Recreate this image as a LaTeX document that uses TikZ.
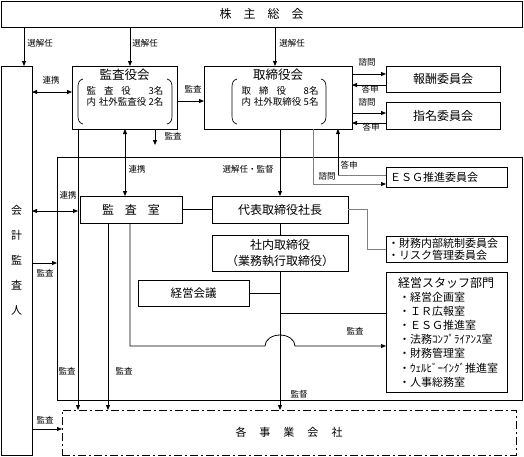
\documentclass[tikz,border=0pt]{standalone}
\usepackage{fontspec}
\setmainfont{Noto Sans CJK JP}
\usetikzlibrary{arrows.meta}
\newcommand\myfs[1]{\fontsize{#1}{#1}\selectfont}
\begin{document}
\begin{tikzpicture}[x=1pt,y=-1pt,
 box/.style={draw, line width=0.8pt, inner sep=0pt, outer sep=0pt, anchor=north west},
 arr/.style={line width=0.8pt, -{Triangle[length=5pt,width=4pt]}},
 darr/.style={line width=0.8pt, {Triangle[length=5pt,width=4pt]}-{Triangle[length=5pt,width=4pt]}},
 garr/.style={line width=0.7pt, draw=black!50, -{Triangle[length=5pt,width=4pt,color=black,fill=black]}},
 ln/.style={line width=0.8pt},
 gln/.style={line width=0.7pt, draw=black!50},
 brk/.style={line width=0.7pt},
 lbl/.style={font=\myfs{8.5}, inner sep=0pt},
]
\useasboundingbox (0,0) rectangle (524,456);

% coordinates
\foreach \x in {24,78,108,125,130,155,275,313,338,367}{\coordinate (X\x) at (\x,0);}
\foreach \y in {74,85,92,101,113,123,145,175,184,211,263,313,429}{\coordinate (Y\y) at (0,\y);}
\coordinate (jA) at (265,346);
\coordinate (kbe) at (155,145);

% boxes
\node[box, minimum width=521pt, minimum height=26pt, font=\myfs{12}] (gm) at (1,1) {株\hspace{12pt}主\hspace{12pt}総\hspace{12pt}会};
\node[box, minimum width=31pt, minimum height=389pt, align=center, font=\fontsize{11}{25}\selectfont] (ka) at (1,66) {会\\計\\監\\査\\人};
\node[box, minimum width=105pt, minimum height=63pt] (kb) at (72,66) {};
\node[box, minimum width=148pt, minimum height=63pt] (tb) at (204,66) {};
\node[box, minimum width=114pt, minimum height=26pt, font=\myfs{12}] (hc) at (386,66) {報酬委員会};
\node[box, minimum width=114pt, minimum height=27pt, font=\myfs{12}] (sm) at (386,102) {指名委員会};
\node[box, minimum width=465pt, minimum height=243pt] (bg) at (57,157) {};
\node[box, minimum width=121pt, minimum height=20pt] (esg) at (386,167) {};
\node[box, minimum width=102pt, minimum height=27pt, font=\myfs{12}] (ks) at (80,196) {監\hspace{11pt}査\hspace{11pt}室};
\node[box, minimum width=136pt, minimum height=27pt, font=\myfs{12}] (ds) at (212,196) {代表取締役社長};
\node[box, minimum width=121pt, minimum height=26pt] (fn) at (386,236) {};
\node[box, minimum width=136pt, minimum height=36pt, align=center, font=\fontsize{12}{16}\selectfont] (st) at (212,235) {社内取締役\\（業務執行取締役）};
\node[box, minimum width=111pt, minimum height=26pt, font=\myfs{11.5}] (kk) at (138,280) {経営会議};
\node[box, minimum width=121pt, minimum height=120pt] (sf) at (386,272) {};
\node[box, minimum width=454pt, minimum height=45pt, dash pattern=on 8pt off 3pt on 2pt off 3pt, font=\myfs{11}] (jg) at (62,410) {各\hspace{13pt}事\hspace{13pt}業\hspace{13pt}会\hspace{13pt}社};

% texts inside
\node[font=\myfs{12.5}, inner sep=0pt] (kbt) at (124.5,75) {監査役会};
\node[font=\fontsize{9.5}{11}\selectfont, align=left, inner sep=0pt] (kbl) at (125,96.5) {\makebox[77pt]{監\hspace{8pt}査\hspace{8pt}役\hfill 3名}\\\makebox[77pt]{内\hspace{3pt}社外監査役\hfill 2名}};
\node[font=\myfs{12.5}, inner sep=0pt] (tbt) at (278,75) {取締役会};
\node[font=\fontsize{9.5}{11}\selectfont, align=left, inner sep=0pt] (tbl) at (280,96.5) {\makebox[77pt]{取\hspace{8pt}締\hspace{8pt}役\hfill 8名}\\\makebox[77pt]{内\hspace{3pt}社外取締役\hfill 5名}};
\node[anchor=west, font=\myfs{11}, inner sep=0pt] (esgt) at (390,177) {ＥＳＧ推進委員会};
\node[anchor=west, align=left, font=\fontsize{11}{12}\selectfont, inner sep=0pt] (fnt) at (388,249) {・財務内部統制委員会\\・リスク管理委員会};
\node[font=\myfs{12}, inner sep=0pt] (sft) at (446,283) {経営スタッフ部門};
\node[anchor=west, align=left, font=\fontsize{11}{14.2}\selectfont, inner sep=0pt] (sfl) at (399,339.5) {・経営企画室\\・ＩＲ広報室\\・ＥＳＧ推進室\\・法務ｺﾝﾌﾟﾗｲｱﾝｽ室\\・財務管理室\\・ｳｪﾙﾋﾞｰｲﾝｸﾞ推進室\\・人事総務室};

% brackets
\draw[brk] (83,79) .. controls (79,80) and (78,83) .. (78,87) -- (78,116) .. controls (78,120) and (79,123) .. (83,124);
\draw[brk] (167,79) .. controls (171,80) and (172,83) .. (172,87) -- (172,116) .. controls (172,120) and (171,123) .. (167,124);
\draw[brk] (237,79) .. controls (233,80) and (232,83) .. (232,87) -- (232,116) .. controls (232,120) and (233,123) .. (237,124);
\draw[brk] (321,79) .. controls (325,80) and (326,83) .. (326,87) -- (326,116) .. controls (326,120) and (325,123) .. (321,124);

% connectors
\draw[arr] (gm.south -| X24) -- (ka.north -| X24);
\draw[arr] (gm.south -| X130) -- (kb.north -| X130);
\draw[arr] (gm.south -| X275) -- (tb.north -| X275);
\draw[darr] (ka.east |- Y92) -- (kb.west |- Y92);
\draw[arr] (kb.east |- Y101) -- (tb.west |- Y101);
\draw[arr] (tb.east |- Y74) -- (hc.west |- Y74);
\draw[arr] (hc.west |- Y85) -- (tb.east |- Y85);
\draw[arr] (tb.east |- Y113) -- (sm.west |- Y113);
\draw[arr] (sm.west |- Y123) -- (tb.east |- Y123);
\draw[arr] (kb.south -| X78) -- (jg.north -| X78);
\draw[darr] (kb.south -| X125) -- (ks.north -| X125);
\draw[arr] (kb.south -| X155) -- (kbe);
\draw[arr] (tb.south -| ds.north) -- (ds.north);
\draw[garr] (tb.south -| X313) |- (esg.west |- Y184);
\draw[gln] (esg.west |- Y175) -- (X338 |- Y175);
\draw[arr] (X338 |- Y175) -- (tb.south -| X338);
\draw[darr] (ka.east |- Y211) -- (X78 |- Y211);
\draw[ln] (ks.east) -- (ds.west);
\draw[gln] (ds.east) -- (X367 |- ds.east) |- (fn.west);
\draw[ln] (ds.south) -- (st.north);
\draw[arr] (st.south) -- (jg.north -| st.south);
\draw[ln] (kk.east) -- (kk.east -| st.south);
\draw[ln] (st.south |- Y313) -- (sf.west |- Y313);
\draw[arr] (ks.south -| X108) -- (jg.north -| X108);
\draw[arr] (ks.south -| X130) |- (jA) arc[start angle=180, end angle=0, x radius=15pt, y radius=11pt] -- (sf.west |- jA);
\draw[arr] (ka.east |- Y263) -- (bg.west |- Y263);
\draw[arr] (ka.east |- Y429) -- (jg.west |- Y429);

% labels
\node[lbl] (l1) at (40,43) {選解任};
\node[lbl] (l2) at (145,43) {選解任};
\node[lbl] (l3) at (292,43) {選解任};
\node[lbl] (l4) at (51,80) {連携};
\node[lbl] (l5) at (193,89) {監査};
\node[lbl] (l6) at (173,136) {監査};
\node[lbl] (l7) at (367,62) {諮問};
\node[lbl] (l8) at (370,89) {答申};
\node[lbl] (l9) at (367,102) {諮問};
\node[lbl] (l10) at (371,127) {答申};
\node[lbl] (l11) at (137,169) {連携};
\node[lbl] (l12) at (248,169) {選解任・監督};
\node[lbl] (l13) at (349,165) {答申};
\node[lbl] (l14) at (327,176) {諮問};
\node[lbl] (l15) at (68,195) {連携};
\node[lbl] (l16) at (45,273) {監査};
\node[lbl] (l17) at (67,371) {監査};
\node[lbl] (l18) at (124,371) {監査};
\node[lbl] (l19) at (355,331) {監査};
\node[lbl] (l20) at (299,394) {監督};
\node[lbl] (l21) at (45,420) {監査};
\end{tikzpicture}
\end{document}
